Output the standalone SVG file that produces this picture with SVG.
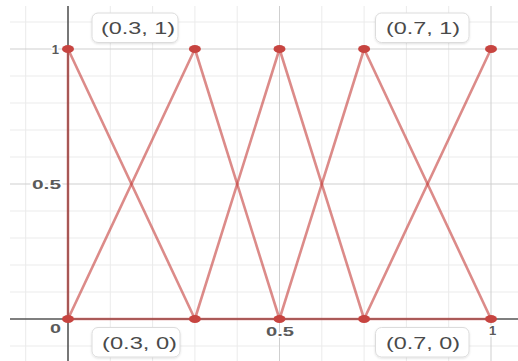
<svg xmlns="http://www.w3.org/2000/svg" width="518" height="361" viewBox="0 0 518 361">
<style>
.minor{stroke:#ebebeb;stroke-width:1}
.major{stroke:#cfcfcf;stroke-width:1}
.axis{stroke:#555;stroke-width:1.6}
.seg{stroke:#c74440;stroke-opacity:0.62;stroke-width:2.6;stroke-linecap:round}
.pt{fill:#c74440}
.ax{font-family:"Liberation Sans",Arial,sans-serif;font-size:13px;font-weight:bold;fill:#5a5a5a;stroke:#fff;stroke-width:3;paint-order:stroke;stroke-linejoin:round}
.box{fill:#fff;stroke:#dcdcdc;stroke-width:1}
.lbl{font-family:"Liberation Sans",Arial,sans-serif;font-size:16px;fill:#4a4a4a}
</style>
<defs>
<filter id="sh" x="-10%" y="-20%" width="120%" height="150%">
<feDropShadow dx="0" dy="1" stdDeviation="1" flood-color="#000" flood-opacity="0.12"/>
</filter>
</defs>
<rect width="518" height="361" fill="#fff"/>
<g id="grid">
<g class="minor">
<line x1="25.7" y1="6" x2="25.7" y2="361"/>
<line x1="110.3" y1="6" x2="110.3" y2="361"/>
<line x1="152.6" y1="6" x2="152.6" y2="361"/>
<line x1="194.9" y1="6" x2="194.9" y2="361"/>
<line x1="237.2" y1="6" x2="237.2" y2="361"/>
<line x1="321.8" y1="6" x2="321.8" y2="361"/>
<line x1="364.1" y1="6" x2="364.1" y2="361"/>
<line x1="406.4" y1="6" x2="406.4" y2="361"/>
<line x1="448.7" y1="6" x2="448.7" y2="361"/>
<line x1="10" y1="22" x2="518" y2="22"/>
<line x1="10" y1="76" x2="518" y2="76"/>
<line x1="10" y1="103" x2="518" y2="103"/>
<line x1="10" y1="130" x2="518" y2="130"/>
<line x1="10" y1="157" x2="518" y2="157"/>
<line x1="10" y1="211" x2="518" y2="211"/>
<line x1="10" y1="238" x2="518" y2="238"/>
<line x1="10" y1="265" x2="518" y2="265"/>
<line x1="10" y1="292" x2="518" y2="292"/>
<line x1="10" y1="346" x2="518" y2="346"/>
</g>
<g class="major">
<line x1="279.5" y1="6" x2="279.5" y2="361"/>
<line x1="491" y1="6" x2="491" y2="361"/>
<line x1="10" y1="49" x2="518" y2="49"/>
<line x1="10" y1="184" x2="518" y2="184"/>
</g>
</g>
<g id="axes" class="axis">
<line x1="68" y1="6" x2="68" y2="361"/>
<line x1="10" y1="319" x2="518" y2="319"/>
</g>
<g id="connectors" class="seg">
<line x1="68" y1="49" x2="68" y2="319"/>
<line x1="68" y1="319" x2="491" y2="319"/>
<line x1="68" y1="49" x2="194.9" y2="319"/>
<line x1="68" y1="319" x2="194.9" y2="49"/>
<line x1="194.9" y1="49" x2="279.5" y2="319"/>
<line x1="194.9" y1="319" x2="279.5" y2="49"/>
<line x1="279.5" y1="49" x2="364.1" y2="319"/>
<line x1="279.5" y1="319" x2="364.1" y2="49"/>
<line x1="364.1" y1="49" x2="491" y2="319"/>
<line x1="364.1" y1="319" x2="491" y2="49"/>
</g>
<g id="axis-labels" class="ax">
<text x="59" y="54" text-anchor="end">1</text>
<text x="32" y="189" textLength="29" lengthAdjust="spacingAndGlyphs">0.5</text>
<text x="50" y="333" textLength="11" lengthAdjust="spacingAndGlyphs">0</text>
<text x="266" y="336" textLength="28" lengthAdjust="spacingAndGlyphs">0.5</text>
<text x="492.5" y="335" text-anchor="middle">1</text>
</g>
<g id="points" class="pt">
<ellipse id="p00" cx="68" cy="319" rx="6" ry="4"/>
<ellipse id="p01" cx="68" cy="49" rx="6" ry="4"/>
<ellipse id="p30" cx="194.9" cy="319" rx="6" ry="4"/>
<ellipse id="p31" cx="194.9" cy="49" rx="6" ry="4"/>
<ellipse id="p50" cx="279.5" cy="319" rx="6" ry="4"/>
<ellipse id="p51" cx="279.5" cy="49" rx="6" ry="4"/>
<ellipse id="p70" cx="364.1" cy="319" rx="6" ry="4"/>
<ellipse id="p71" cx="364.1" cy="49" rx="6" ry="4"/>
<ellipse id="p100" cx="491" cy="319" rx="6" ry="4"/>
<ellipse id="p101" cx="491" cy="49" rx="6" ry="4"/>
</g>
<g id="label-03-1">
<rect class="box" x="92" y="13" width="86" height="29.5" rx="6" filter="url(#sh)"/>
<text class="lbl" x="101" y="34" textLength="74" lengthAdjust="spacingAndGlyphs">(0.3, 1)</text>
</g>
<g id="label-07-1">
<rect class="box" x="375.5" y="13" width="93.5" height="29.5" rx="6" filter="url(#sh)"/>
<text class="lbl" x="386" y="34" textLength="74" lengthAdjust="spacingAndGlyphs">(0.7, 1)</text>
</g>
<g id="label-03-0">
<rect class="box" x="92" y="327.5" width="88" height="29.5" rx="6" filter="url(#sh)"/>
<text class="lbl" x="102" y="349" textLength="75" lengthAdjust="spacingAndGlyphs">(0.3, 0)</text>
</g>
<g id="label-07-0">
<rect class="box" x="375.5" y="327.5" width="93.5" height="29.5" rx="6" filter="url(#sh)"/>
<text class="lbl" x="386" y="349" textLength="74" lengthAdjust="spacingAndGlyphs">(0.7, 0)</text>
</g>
</svg>
